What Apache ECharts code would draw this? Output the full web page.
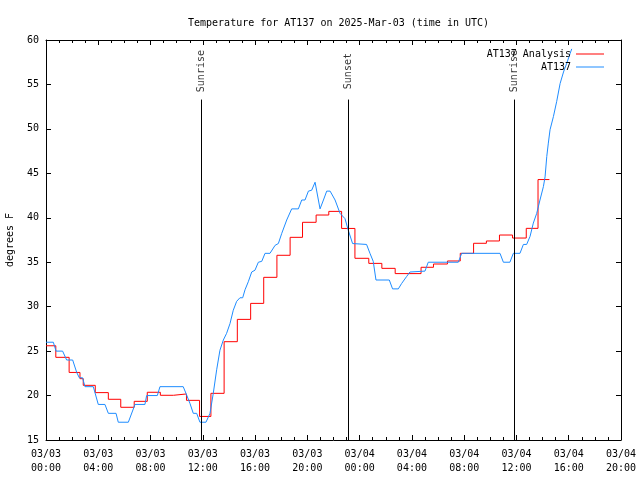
<!DOCTYPE html>
<html>
<head>
<meta charset="utf-8">
<script src="https://cdn.jsdelivr.net/npm/echarts@6/dist/echarts.min.js"></script>
<style>html,body{margin:0;padding:0;background:#fff}#c{width:640px;height:480px}</style>
</head>
<body>
<div id="c"></div>
<script>
const titleText = 'Temperature for AT137 on 2025-Mar-03 (time in UTC)';
const yAxisName = 'degrees F';
const xTickLabels = ['03/03\n00:00','03/03\n04:00','03/03\n08:00','03/03\n12:00','03/03\n16:00','03/03\n20:00',
                     '03/04\n00:00','03/04\n04:00','03/04\n08:00','03/04\n12:00','03/04\n16:00','03/04\n20:00'];

// Observed AT137 (hours since 03/03 00:00 UTC, degrees F)
const obsHours = [0,0.56,0.77,1.27,1.58,2.04,2.35,2.55,2.8,2.98,3.62,4.0,4.51,4.77,5.36,5.53,6.3,6.81,7.57,7.7,8.52,8.72,10.5,10.71,11.02,11.27,11.53,11.78,12.24,12.55,12.8,13.06,13.31,13.57,13.82,14.08,14.33,14.59,14.84,15.05,15.23,15.48,15.74,15.99,16.25,16.51,16.76,17.14,17.53,17.78,18.04,18.42,18.8,19.31,19.57,19.82,20.08,20.33,20.59,20.97,21.23,21.48,21.74,22.12,22.5,22.88,23.13,23.46,24.53,24.79,25.04,25.25,26.27,26.52,26.96,27.21,27.6,27.85,29.0,29.25,31.55,31.81,34.74,35.0,35.5,35.76,36.27,36.53,36.78,37.04,37.29,37.55,37.8,38.06,38.19,38.32,38.44,38.57,38.83,39.08,39.34,39.6,39.85,40.11,40.23];
const obsTemps = [26,26,25,25,24,24,22.6,22,22,21,21,19,19,18,18,17,17,19,19,20,20,21,21,20.25,19.1,18,18,17,17,18,20.25,22.9,25.1,26.25,27,28.1,29.6,30.6,31,31,31.9,32.8,33.9,34.1,35,35.1,36,36,36.9,37.1,38.25,39.75,41,41,42,42,43,43.1,44,41,42,43,43,42,40.5,39.9,38.6,37.1,37,36,35.1,33,33,32,32,32.6,33.4,33.9,34,35,35,36,36,35,35,36,36,37,37,37.9,39.4,40.5,42,43.5,44.6,46.9,48.4,49.9,51.4,53.1,55.1,56.4,57.4,58.5,59];

// AT137 Analysis (stepped values: hour the value starts, degrees F)
const anaHours = [0,0.75,1.77,2.6,2.85,3.77,4.77,5.72,6.75,7.75,8.75,9.75,10.75,11.75,12.62,13.63,14.64,15.66,16.66,17.67,18.68,19.63,20.67,21.64,22.62,23.64,24.7,25.7,26.72,28.7,29.65,30.72,31.7,32.72,33.7,34.7,35.7,36.75,37.65,38.52];
const anaTemps = [25.6,24.3,22.6,21.9,21.15,20.33,19.58,18.68,19.35,20.37,20.03,20.18,19.46,17.65,20.25,26.06,28.57,30.37,33.3,35.78,37.8,39.49,40.31,40.72,38.8,35.44,34.87,34.31,33.72,34.43,34.8,35.14,36.0,37.13,37.39,38.06,37.72,38.81,44.3,44.3];

// Sun events
const eventNames = ['Sunrise','Sunset','Sunrise'];
const eventHours = [11.9, 23.15, 35.85];
const eventLineTop = 53.3;
const eventLabelY = 56.5;

const FONT = 'DejaVu Sans Mono';
const chart = echarts.init(document.getElementById('c'), null, {renderer:'canvas'});

const obsData = obsHours.map((h,i)=>[h, obsTemps[i]]);
const anaData = anaHours.map((h,i)=>[h, anaTemps[i]]);

const xCommon = {
  type:'value', min:0, max:44, interval:4,
  axisLine:{onZero:false, lineStyle:{color:'#000', width:1}},
  axisTick:{inside:true, length:5, lineStyle:{color:'#000'}},
  minorTick:{show:true, splitNumber:4, length:3, lineStyle:{color:'#000'}},
  splitLine:{show:false}
};
const yCommon = {
  type:'value', min:15, max:60, interval:5,
  axisLine:{show:true, onZero:false, lineStyle:{color:'#000', width:1}},
  axisTick:{show:true, inside:true, length:5, lineStyle:{color:'#000'}},
  splitLine:{show:false}
};

chart.setOption({
  animation:false,
  backgroundColor:'#fff',
  title:{text:titleText, left:183, top:13,
    textStyle:{fontFamily:FONT, fontSize:10, fontWeight:'normal', color:'#000'}},
  grid:{left:46, right:19, top:40, bottom:40, containLabel:false, outerBoundsMode:'none'},
  legend:{
    orient:'vertical', right:31, top:43.5, align:'right',
    icon:'rect', itemWidth:28, itemHeight:1, itemGap:2,
    itemStyle:{borderWidth:0},
    textStyle:{fontFamily:FONT, fontSize:10, color:'#000', lineHeight:11},
    data:['AT137 Analysis','AT137']
  },
  xAxis:[
    Object.assign({}, xCommon, {position:'bottom',
      axisLabel:{fontFamily:FONT, fontSize:10, color:'#000', margin:7, lineHeight:14,
        formatter:(v)=>xTickLabels[Math.round(v/4)]}}),
    Object.assign({}, xCommon, {position:'top', axisLabel:{show:false}})
  ],
  yAxis:[
    Object.assign({}, yCommon, {position:'left', name:yAxisName, nameLocation:'middle', nameGap:31,
      nameTextStyle:{fontFamily:FONT, fontSize:10, color:'#000'},
      axisLabel:{fontFamily:FONT, fontSize:10, color:'#000', margin:7}}),
    Object.assign({}, yCommon, {position:'right', axisLabel:{show:false}})
  ],
  series:[
    {name:'AT137 Analysis', type:'line', step:'end', data:anaData, symbol:'none',
      lineStyle:{color:'#ff0000', width:1}, itemStyle:{color:'#ff0000'}},
    {name:'AT137', type:'line', data:obsData, symbol:'none',
      lineStyle:{color:'#1e8cff', width:1}, itemStyle:{color:'#1e8cff'}},
    {name:'events', type:'line', data:[], symbol:'none', silent:true,
      markLine:{symbol:'none', silent:true, animation:false,
        lineStyle:{color:'#000', width:1, type:'solid'},
        label:{show:false},
        data:eventHours.map(h=>[{coord:[h,15]},{coord:[h,eventLineTop]}])}},
    {name:'eventLabels', type:'scatter', symbolSize:0, silent:true,
      data:eventHours.map((h,i)=>({value:[h,eventLabelY], name:eventNames[i]})),
      label:{show:true, position:'inside', rotate:90, formatter:(p)=>p.name,
        fontFamily:FONT, fontSize:10, color:'#000'}}
  ]
});
</script>
</body>
</html>
